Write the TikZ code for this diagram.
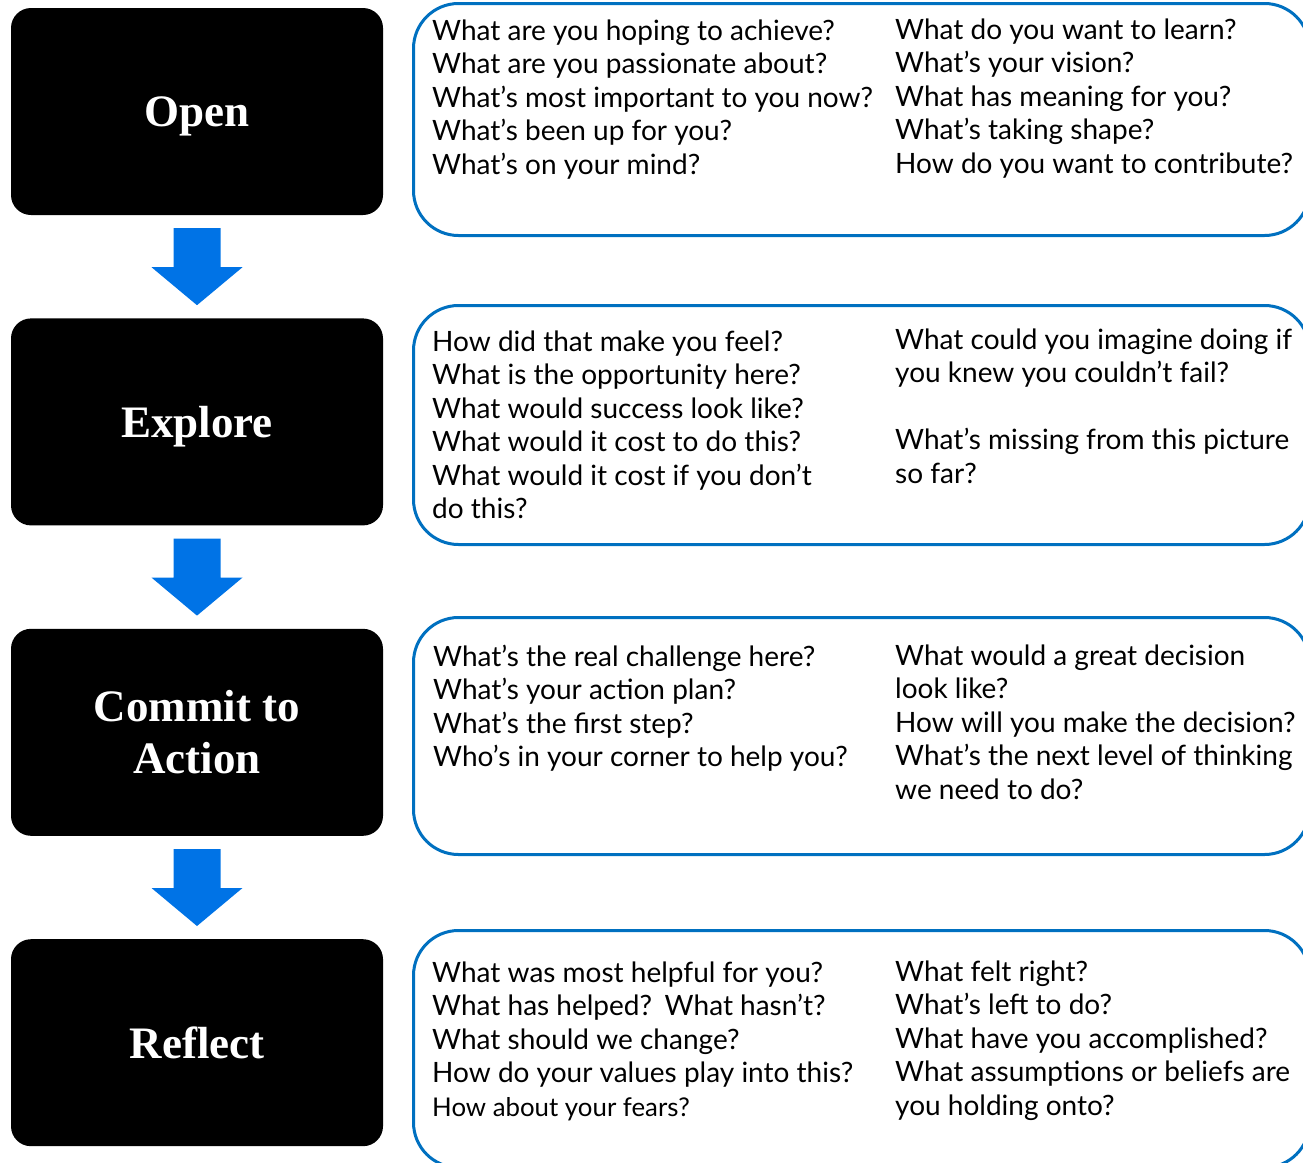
\documentclass[tikz,border=0pt]{standalone}
\usepackage{fontspec}
\setmainfont{Liberation Serif}
\newfontfamily\qfont{Lato}
\usetikzlibrary{positioning,calc}
\definecolor{flowblue}{RGB}{0,115,230}
\definecolor{edgeblue}{RGB}{0,112,192}
\tikzset{
  stage/.style={fill=black, rounded corners=20pt, minimum width=372pt, minimum height=207pt,
    text=white, align=center, text depth=0pt, font=\bfseries\fontsize{45}{52}\selectfont},
  qbox/.style={draw=edgeblue, line width=3pt, rounded corners=45pt, anchor=north west,
    minimum width=896pt},
  qtext/.style={anchor=north west, inner sep=0pt, align=left,
    font=\qfont\fontsize{28}{33.5}\selectfont},
}
% block arrow from one stage down to the next
\newcommand\stagearrow[2]{%
  \fill[flowblue] ($(#1.south)+(-23.5,13)$) -- ++(47,0) -- ++(0,39) -- ++(22,0)
    -- ($(#2.north)+(0,-13)$) -- ($(#1.south)+(-45.5,52)$) -- ++(22,0) -- cycle;}
\begin{document}
\begin{tikzpicture}[x=1pt, y=-1pt, node distance=103pt]
    \useasboundingbox (0,0) rectangle (1303,1162);
    \clip (0,0) rectangle (1303,1162);
    % Stages on the left
    \node[stage] (open) at (197,111.5) {Open};
    \node[stage, below=of open] (explore) {Explore};
    \node[stage, below=of explore] (commit) {Commit to\\Action};
    \node[stage, below=of commit] (reflect) {Reflect};
    % Arrows between the stages
    \stagearrow{open}{explore}
    \stagearrow{explore}{commit}
    \stagearrow{commit}{reflect}
    % Question boxes on the right
    \node[qbox, minimum height=232pt] (openq) at (412,2) {};
    \node[qbox, minimum height=239pt] (exploreq) at (412,304) {};
    \node[qbox, minimum height=237pt] (commitq) at (412,616) {};
    \node[qbox, minimum height=237pt] (reflectq) at (412,929) {};
    % Open questions
    \node[qtext] (openl) at (432,19.5) {What are you hoping to achieve?\\What are you passionate about?\\What’s most important to you now?\\What’s been up for you?\\What’s on your mind?};
    \node[qtext] (openr) at (895,18.5) {What do you want to learn?\\What’s your vision?\\What has meaning for you?\\What’s taking shape?\\How do you want to contribute?};
    % Explore questions
    \node[qtext] (explorel) at (432,330.5) {How did that make you feel?\\What is the opportunity here?\\What would success look like?\\What would it cost to do this?\\What would it cost if you don’t\\do this?};
    \node[qtext] (explorer) at (895,328.5) {What could you imagine doing if\\you knew you couldn’t fail?\\[33.5pt]What’s missing from this picture\\so far?};
    % Commit questions
    \node[qtext] (commitl) at (433,644.5) {What’s the real challenge here?\\What’s your action plan?\\What’s the first step?\\Who’s in your corner to help you?};
    \node[qtext] (commitr) at (895,644.5) {What would a great decision\\look like?\\How will you make the decision?\\What’s the next level of thinking\\we need to do?};
    % Reflect questions
    \node[qtext] (reflectl) at (432,961.5) {What was most helpful for you?\\What has helped?\kern3pt{} What hasn’t?\\What should we change?\\How do your values play into this?\\{\fontsize{25.8}{33.5}\selectfont How about your fears?}};
    \node[qtext] (reflectr) at (895,960.5) {What felt right?\\What’s left to do?\\What have you accomplished?\\What assumptions or beliefs are\\you holding onto?};
\end{tikzpicture}
\end{document}
